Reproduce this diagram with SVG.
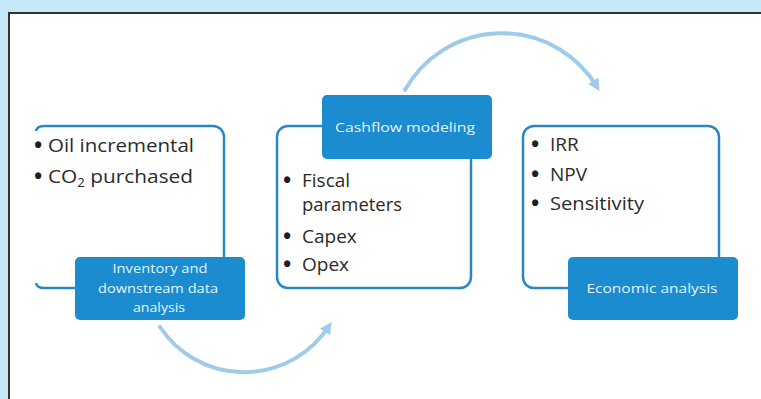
<svg xmlns="http://www.w3.org/2000/svg" width="761" height="399" viewBox="0 0 761 399">
  <defs>
    <style>
      .frame { fill: #ffffff; stroke: #333333; stroke-width: 2; }
      .outline { fill: #ffffff; stroke: #2a86c6; stroke-width: 2.5; }
      .label { fill: #1a8ccf; }
      .bullet { font-family: "Open Sans", "Noto Sans", sans-serif; font-size: 19px; font-weight: 500; fill: #2b2b2b; }
      .dot { font-family: "Open Sans", "Noto Sans", sans-serif; font-size: 22px; font-weight: 700; fill: #1e1e1e; }
      .cap { font-family: "Open Sans", "Noto Sans", sans-serif; font-size: 12px; font-weight: 400; fill: #e4f3fc; text-anchor: middle; }
      .arc { fill: none; stroke: #9fcbea; stroke-width: 4; stroke-linecap: round; }
    </style>
    <marker id="head" viewBox="0 0 10 10" refX="6" refY="5" markerWidth="12" markerHeight="12" markerUnits="userSpaceOnUse" orient="auto">
      <path d="M0,0 L10,5 L0,10 z" fill="#9fcbea"/>
    </marker>
  </defs>

  <!-- page background and framed panel -->
  <rect x="0" y="0" width="761" height="399" fill="#c6e7f8"/>
  <rect class="frame" x="9" y="13" width="760" height="400"/>

  <!-- connectors -->
  <g id="connectors">
    <path class="arc" d="M405,90 A111,111 0 0 1 597,87" marker-end="url(#head)"/>
    <path class="arc" d="M160,327 A101,101 0 0 0 329,326" marker-end="url(#head)"/>
  </g>

  <!-- inventory stage -->
  <g id="inventory">
    <path class="outline" d="M36,131 Q37,126 44,126 H213 A11,11 0 0 1 224,137 V277 A11,11 0 0 1 213,288 H44 Q37,288 36,283"/>
    <text class="dot" x="34" y="153">•</text>
    <text class="bullet" x="48" y="152" textLength="146" lengthAdjust="spacingAndGlyphs">Oil incremental</text>
    <text class="dot" x="34" y="184">•</text>
    <text class="bullet" x="48" y="183" textLength="145" lengthAdjust="spacingAndGlyphs">CO<tspan font-size="12" dy="4">2</tspan><tspan dy="-4"> purchased</tspan></text>
    <rect class="label" x="75" y="257" width="170" height="63" rx="5"/>
    <text class="cap" x="160" y="273" textLength="95" lengthAdjust="spacingAndGlyphs">Inventory and</text>
    <text class="cap" x="158" y="293" textLength="120" lengthAdjust="spacingAndGlyphs">downstream  data</text>
    <text class="cap" x="159" y="312" textLength="52" lengthAdjust="spacingAndGlyphs">analysis</text>
  </g>

  <!-- cashflow stage -->
  <g id="cashflow">
    <rect class="outline" x="277" y="126" width="194" height="162" rx="11"/>
    <text class="dot" x="283" y="188">•</text>
    <text class="bullet" x="302" y="187">Fiscal</text>
    <text class="bullet" x="302" y="211" textLength="100" lengthAdjust="spacingAndGlyphs">parameters</text>
    <text class="dot" x="283" y="244">•</text>
    <text class="bullet" x="302" y="243">Capex</text>
    <text class="dot" x="283" y="272">•</text>
    <text class="bullet" x="302" y="271">Opex</text>
    <rect class="label" x="322" y="95" width="170" height="64" rx="5"/>
    <text class="cap" x="405" y="132" textLength="140" lengthAdjust="spacingAndGlyphs">Cashflow  modeling</text>
  </g>

  <!-- economic stage -->
  <g id="economic">
    <rect class="outline" x="523" y="126" width="196" height="162" rx="11"/>
    <text class="dot" x="531" y="152">•</text>
    <text class="bullet" x="550" y="151">IRR</text>
    <text class="dot" x="531" y="182">•</text>
    <text class="bullet" x="550" y="181">NPV</text>
    <text class="dot" x="531" y="211">•</text>
    <text class="bullet" x="550" y="210" textLength="94" lengthAdjust="spacingAndGlyphs">Sensitivity</text>
    <rect class="label" x="568" y="257" width="170" height="63" rx="5"/>
    <text class="cap" x="652" y="293" textLength="131" lengthAdjust="spacingAndGlyphs">Economic  analysis</text>
  </g>
</svg>
